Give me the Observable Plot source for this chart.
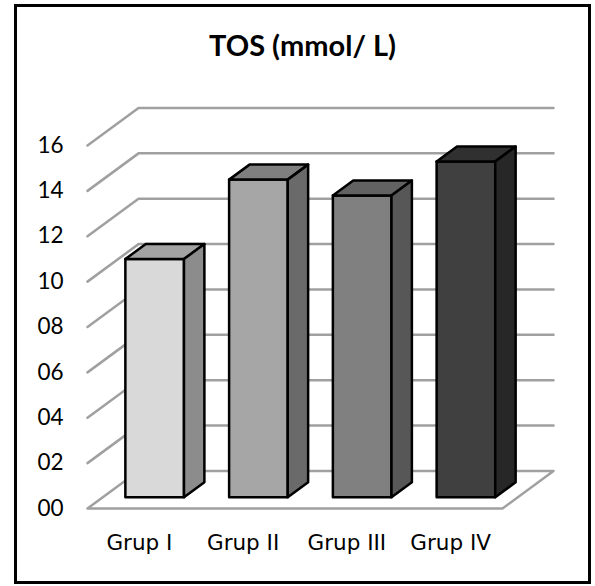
<!DOCTYPE html>
<html><head><meta charset="utf-8">
<script src="https://cdn.jsdelivr.net/npm/d3@7"></script>
<script src="https://cdn.jsdelivr.net/npm/@observablehq/plot@0.6"></script>
<style>
html,body{margin:0;padding:0;background:#fff;}
#wrap{position:relative;width:595px;height:586px;}
#border{position:absolute;left:14px;top:4px;width:577px;height:580px;box-sizing:border-box;border:3px solid #000;pointer-events:none;}
</style></head><body>
<div id="wrap"><div id="chart"></div><div id="border"></div></div>
<script>
const title = "TOS (mmol/ L)";
const categories = ["Grup I", "Grup II", "Grup III", "Grup IV"];
const values = [10.5, 14.0, 13.3, 14.8];
const yTicks = [0, 2, 4, 6, 8, 10, 12, 14, 16];
const frontColors = ["#d9d9d9", "#a6a6a6", "#808080", "#404040"];
const topColors = ["#a3a3a3", "#7f7f7f", "#626262", "#303030"];
const sideColors = ["#8c8c8c", "#6a6a6a", "#575757", "#272727"];

// 3-D projection constants (in scale units)
const DX = 0.4916, DY = 1.653;   // depth vector of the floor
const F1 = 0.3, F2 = 0.7;        // bar front/back depth fractions
const BAR_W = 0.565;             // bar width as fraction of a category slot
const n = categories.length;

const faces = [];
values.forEach((v, i) => {
  const xl = i + 0.5 - BAR_W / 2 + F1 * DX, xr = xl + BAR_W;
  const y0 = F1 * DY, y1 = v + F1 * DY, y2 = v + F2 * DY, yb = F2 * DY;
  const d = (F2 - F1) * DX;
  const add = (face, fill, pts) =>
    pts.concat([pts[0]]).forEach(([x, y]) => faces.push({id: `${i}-${face}`, x, y, fill}));
  add("front", frontColors[i], [[xl, y0], [xr, y0], [xr, y1], [xl, y1]]);
  add("top", topColors[i], [[xl, y1], [xr, y1], [xr + d, y2], [xl + d, y2]]);
  add("side", sideColors[i], [[xr, y0], [xr + d, yb], [xr + d, y2], [xr, y1]]);
});

const grid = [];
yTicks.filter(v => v > 0).forEach(v => {
  grid.push({v, x: 0, y: v}, {v, x: DX, y: v + DY}, {v, x: n + DX, y: v + DY});
});
const floor = [
  {x: 0, y: 0}, {x: DX, y: DY}, {x: n + DX, y: DY}, {x: n, y: 0}, {x: 0, y: 0}
];

const chart = Plot.plot({
  width: 595, height: 586,
  marginLeft: 87, marginRight: 93, marginTop: 145, marginBottom: 78,
  x: {domain: [0, n], label: null},
  y: {domain: [0, 16], label: null},
  color: {type: "identity"},
  style: {background: "white", fontFamily: "Lato, sans-serif", fontSize: "22px", overflow: "visible", color: "#000"},
  marks: [
    Plot.line(floor, {x: "x", y: "y", fill: "white", stroke: "#a0a0a0", strokeWidth: 2.5}),
    Plot.line(grid, {x: "x", y: "y", z: "v", stroke: "#a0a0a0", strokeWidth: 2.5}),
    Plot.line(faces, {x: "x", y: "y", z: "id", fill: "fill", stroke: "#000", strokeWidth: 2.5, strokeLinejoin: "round"}),
    Plot.axisY({ticks: yTicks, tickFormat: d => String(d).padStart(2, "0"), tickSize: 0, tickPadding: 24,
      fontSize: 22.5, fontFamily: "Lato", fill: "#000", label: null}),
    Plot.axisX({ticks: categories.map((_, i) => i + 0.5), tickFormat: d => categories[Math.floor(d)],
      tickSize: 0, tickPadding: 26.7, fontFamily: "DejaVu Sans", fontSize: 21.5, fill: "#000", label: null}),
    Plot.text([title], {frameAnchor: "top", dx: 7.5, dy: -90, lineAnchor: "bottom",
      fontFamily: "Lato", fontWeight: "bold", fontSize: 29, fill: "#000"})
  ]
});
document.getElementById("chart").appendChild(chart);
</script>
</body></html>
